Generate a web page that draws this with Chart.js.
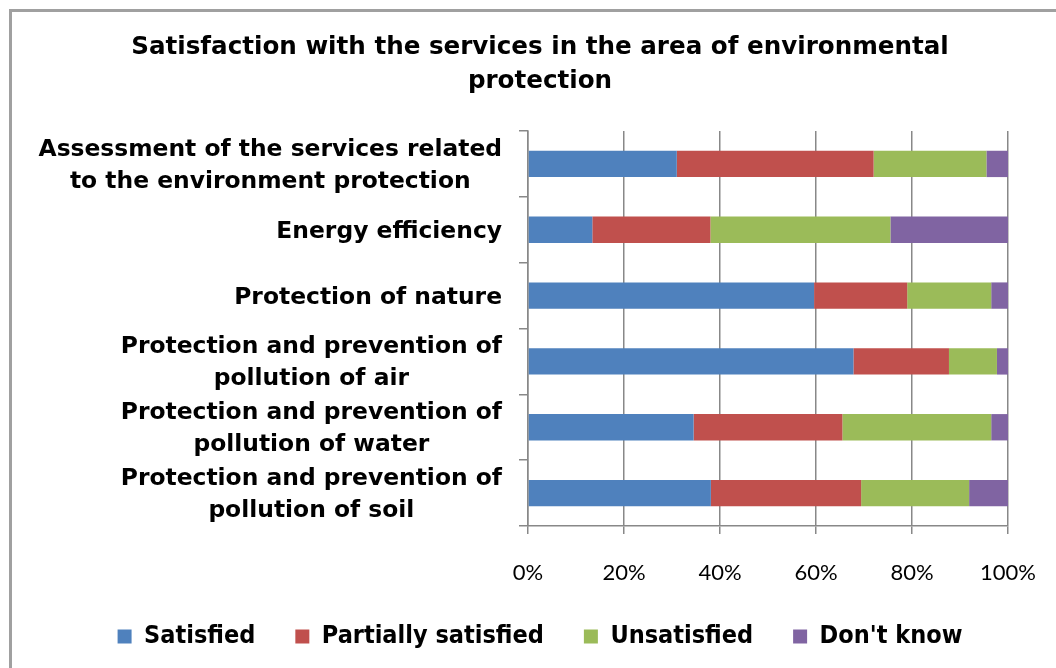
<!DOCTYPE html>
<html>
<head>
<meta charset="utf-8">
<script src="https://cdn.jsdelivr.net/npm/chart.js@4.4.1/dist/chart.umd.min.js"></script>
<style>
    html, body { margin: 0; padding: 0; background: #fff; overflow: hidden; width: 1056px; height: 668px; }
    .frame { position: absolute; left: 9px; top: 9px; width: 1200px; height: 800px; border: 3px solid #a0a0a0; }
    #chart { position: absolute; left: 0; top: 0; }
</style>
</head>
<body>
<div class="frame"></div>
<canvas id="chart" width="1080" height="659"></canvas>
<script>
// Categories (top to bottom)
const categories = [
    ['Assessment of the services related', 'to the environment protection'],
    ['Energy efficiency'],
    ['Protection of nature'],
    ['Protection and prevention of', 'pollution of air'],
    ['Protection and prevention of', 'pollution of water'],
    ['Protection and prevention of', 'pollution of soil']
];

// Series values (% of answers)
const satisfied = [31.0, 13.4, 59.6, 67.8, 34.5, 38.1];
const partiallySatisfied = [41.0, 24.6, 19.4, 19.9, 31.0, 31.3];
const unsatisfied = [23.5, 37.5, 17.5, 10.0, 31.0, 22.5];
const dontKnow = [4.5, 24.5, 3.5, 2.3, 3.5, 8.1];

const xTicks = [0, 20, 40, 60, 80, 100];

const titleLines = ['Satisfaction with the services in the area of environmental', 'protection'];

// Draw category labels: block right-aligned, lines centered to each other
const categoryLabels = {
    id: 'categoryLabels',
    afterDraw(chart) {
        const ctx = chart.ctx;
        const yScale = chart.scales.y;
        ctx.save();
        ctx.font = 'bold 23.4px "DejaVu Sans", Verdana, sans-serif';
        ctx.fillStyle = '#000';
        ctx.textAlign = 'center';
        ctx.textBaseline = 'middle';
        categories.forEach((lines, i) => {
            const y = yScale.getPixelForValue(i) + 2;
            const maxW = Math.max(...lines.map(l => ctx.measureText(l).width));
            const cx = 502 - maxW / 2;
            lines.forEach((line, j) => {
                ctx.fillText(line, cx, y + (j - (lines.length - 1) / 2) * 32);
            });
        });
        ctx.restore();
    }
};

const ctx = document.getElementById('chart');
new Chart(ctx, {
    type: 'bar',
    data: {
        labels: categories.map(c => c.join(' ')),
        datasets: [
            { label: 'Satisfied', data: satisfied, backgroundColor: '#4F81BD' },
            { label: 'Partially satisfied', data: partiallySatisfied, backgroundColor: '#C0504D' },
            { label: 'Unsatisfied', data: unsatisfied, backgroundColor: '#9BBB59' },
            { label: "Don't know", data: dontKnow, backgroundColor: '#8064A2' }
        ]
    },
    options: {
        indexAxis: 'y',
        responsive: false,
        animation: false,
        layout: { padding: { left: 0, right: 0, top: 14, bottom: 0 } },
        datasets: {
            bar: { barPercentage: 0.40, categoryPercentage: 1, borderWidth: 0 }
        },
        plugins: {
            title: {
                display: true,
                text: titleLines,
                color: '#000',
                font: { family: '"DejaVu Sans", Verdana, sans-serif', size: 24.6, weight: 'bold', lineHeight: 34 / 24.6 },
                padding: { top: 17, bottom: 32 }
            },
            legend: {
                position: 'bottom',
                labels: {
                    color: '#000',
                    boxWidth: 14,
                    boxHeight: 14,
                    padding: 40,
                    font: { family: '"DejaVu Sans Condensed", "DejaVu Sans", sans-serif', size: 25, weight: 'bold' }
                }
            },
            tooltip: { enabled: false }
        },
        scales: {
            x: {
                stacked: true,
                min: 0,
                max: 100,
                afterFit(scale) {
                    scale.height = 58;
                    scale.paddingRight = 72;
                },
                afterBuildTicks(scale) { scale.ticks = xTicks.map(v => ({ value: v })); },
                ticks: {
                    color: '#000',
                    padding: 26,
                    font: { family: 'Lato, sans-serif', size: 22 },
                    callback: v => v + '%'
                },
                grid: { color: '#888', lineWidth: 1.5, tickLength: 8, drawTicks: true },
                border: { color: '#888', width: 1.5 }
            },
            y: {
                stacked: true,
                afterFit(scale) { scale.width = 528; },
                ticks: { display: false },
                grid: { offset: true, drawOnChartArea: false, drawTicks: true, tickLength: 9, color: '#888', lineWidth: 1.5 },
                border: { color: '#888', width: 1.5 }
            }
        }
    },
    plugins: [categoryLabels]
});
</script>
</body>
</html>
